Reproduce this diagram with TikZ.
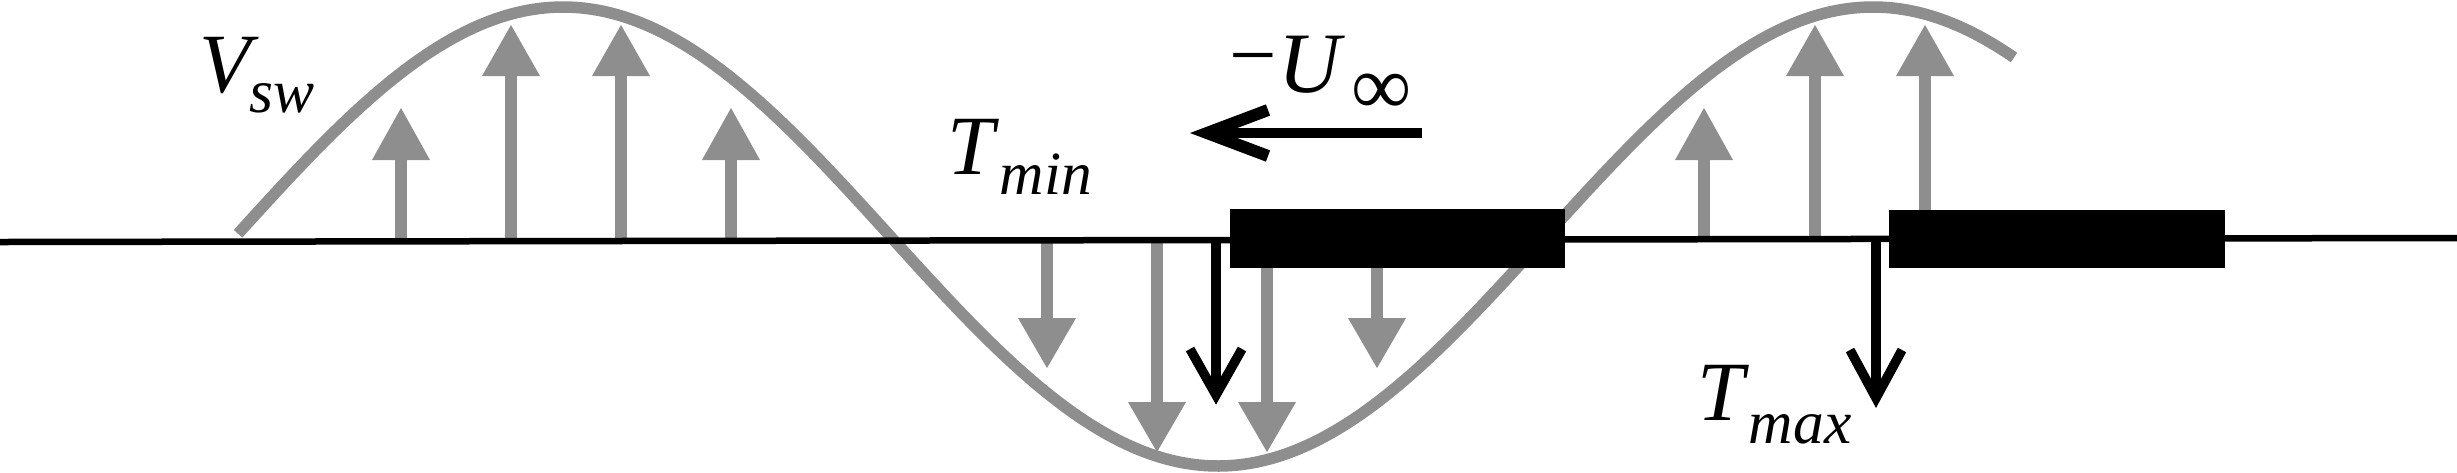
\documentclass[tikz,border=0pt]{standalone}
\usepackage{fontspec}
\setmainfont{Liberation Serif}
\definecolor{wavegray}{RGB}{143,142,143}
\newcommand\mainsz{\fontsize{24pt}{24pt}\selectfont}
\newcommand\subsz{\fontsize{17.5pt}{17.5pt}\selectfont}
% gray block arrow: x, start y, head base y, tip y
\newcommand\grayarrow[4]{%
  \fill[wavegray] ({#1-6},#2) rectangle ({#1+6},{(#3+#4)/2});
  \fill[wavegray] ({#1-29},#3) -- ({#1+29},#3) -- (#1,#4) -- cycle;}
% black open arrow pointing down: x, start y, vertex y, arm end y
\newcommand\blackdown[4]{%
  \draw[shaftline] (#1,#2) -- (#1,#3);
  \draw[barbline] ({#1-26},#4) -- (#1,#3) -- ({#1+26},#4);}
\tikzset{
  wave/.style={draw=wavegray, line width=1.15mm},
  axisline/.style={draw=black, line width=0.65mm},
  shaftline/.style={draw=black, line width=0.95mm},
  barbline/.style={draw=black, line width=0.95mm, line join=miter},
  bodybox/.style={fill=black},
  lbl/.style={inner sep=0pt, outer sep=0pt, anchor=base west, font=\mainsz},
}
\begin{document}
\begin{tikzpicture}[x=0.1mm, y=-0.1mm]
\useasboundingbox (0,0) rectangle (2457,472);
% wave
\draw[wave, domain=238:2014, samples=240, smooth]
  plot (\x, {236.5 - 229.5*cos(((\x-563)/1310)*360)});
% gray arrows, left crest (up)
\grayarrow{401}{240}{160}{108}
\grayarrow{511}{240}{76}{25}
\grayarrow{621}{240}{76}{25}
\grayarrow{731}{240}{160}{108}
% gray arrows, trough (down)
\grayarrow{1047}{240}{318}{368}
\grayarrow{1157}{240}{402}{452}
\grayarrow{1267}{262}{402}{452}
\grayarrow{1377}{262}{318}{368}
% gray arrows, right crest (up)
\grayarrow{1704}{240}{160}{108}
\grayarrow{1815}{240}{76}{25}
\grayarrow{1925}{215}{76}{25}
% axis line
\draw[axisline] (0,242) -- (2457,238);
% bodies
\fill[bodybox] (1230,209) rectangle (1565,268);
\fill[bodybox] (1889,210) rectangle (2225,268);
% black arrows T_min, T_max
\blackdown{1216}{240}{395}{349}
\blackdown{1876}{240}{398}{350}
% free stream arrow
\draw[draw=black, line width=1mm] (1422,133) -- (1207,133);
\draw[draw=black, line width=1.2mm, line join=miter] (1268,110) -- (1207,133) -- (1268,156);
% labels
\node[lbl] (vsw) at (199,92) {\textit{V}\kern-0.9mm\raisebox{-2mm}{\subsz\textit{sw}}};
\node[lbl] (tmin) at (947,174) {\textit{T}\kern0.1mm\raisebox{-2mm}{\subsz\textit{min}}};
\node[lbl] (tmax) at (1697,420) {\textit{T}\raisebox{-2.3mm}{\subsz\textit{max}}};
\node[lbl] (uinf) at (1229,92) {\raisebox{0.9mm}{−}\kern0.2mm{\fontsize{24.5pt}{24.5pt}\selectfont\textit{U}}\kern0.6mm\raisebox{-2.2mm}{∞}};
\end{tikzpicture}
\end{document}
